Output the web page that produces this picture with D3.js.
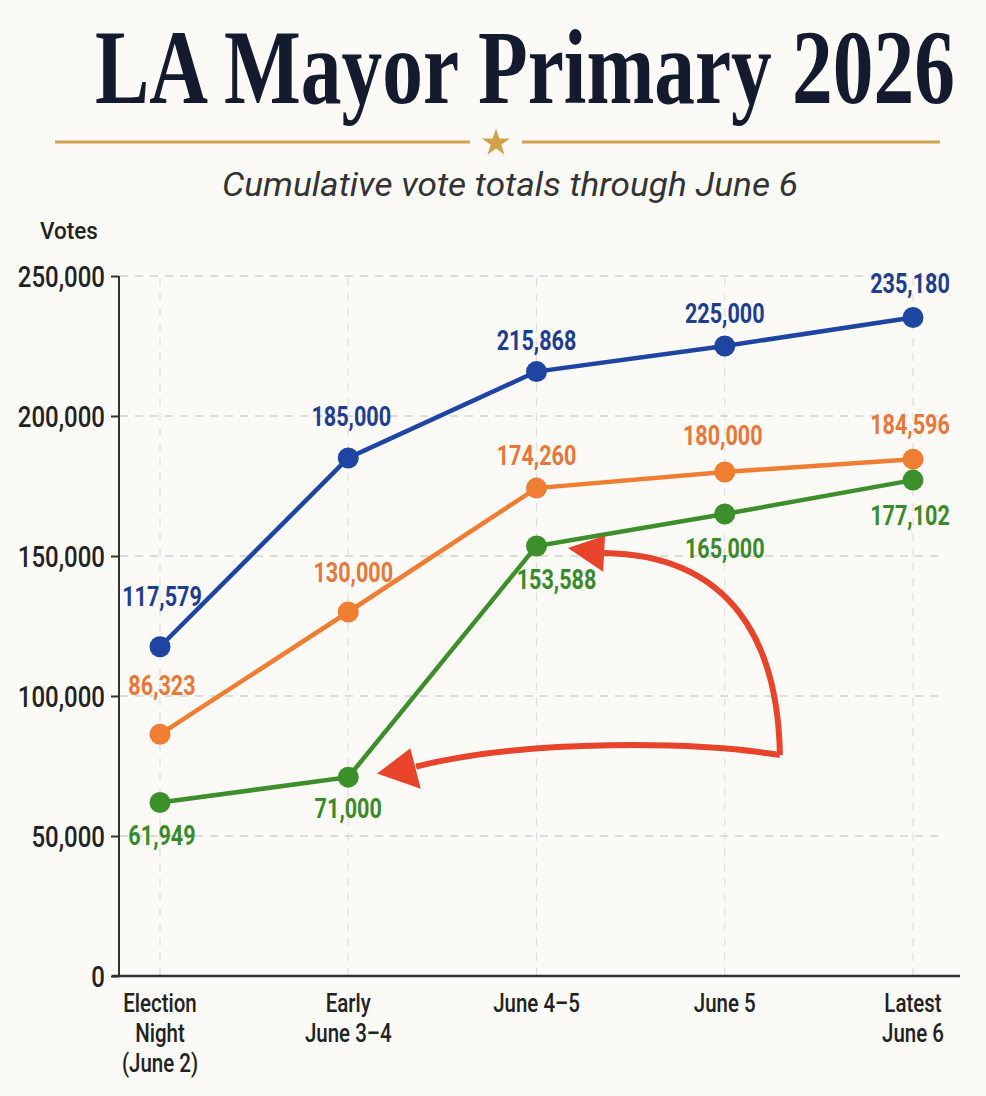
<!DOCTYPE html>
<html>
<head>
<meta charset="utf-8">
<script src="https://cdn.jsdelivr.net/npm/d3@7"></script>
<style>
  html, body { margin: 0; padding: 0; background: #fbfaf6; }
  svg { display: block; }
</style>
</head>
<body>
<div id="chart"></div>
<script>
// Chart data
const categories = ["Election Night (June 2)", "Early June 3\u20134", "June 4\u20135", "June 5", "Latest June 6"];
const categoryLines = [["Election", "Night", "(June 2)"], ["Early", "June 3\u20134"], ["June 4\u20135"], ["June 5"], ["Latest", "June 6"]];
const blueVotes = [117579, 185000, 215868, 225000, 235180];
const orangeVotes = [86323, 130000, 174260, 180000, 184596];
const greenVotes = [61949, 71000, 153588, 165000, 177102];
const yTicks = [0, 50000, 100000, 150000, 200000, 250000];

const width = 986;
const height = 1096;
const sans = "Roboto, 'Open Sans', 'DejaVu Sans', sans-serif";

const svg = d3.select("#chart")
  .append("svg")
  .attr("width", width)
  .attr("height", height);

svg.append("rect").attr("width", width).attr("height", height).attr("fill", "#fbfaf6");

// squeeze/stretch a text horizontally so it covers a given width
function fitWidth(sel, x, y, w) {
  const natural = sel.node().getComputedTextLength();
  sel.attr("transform", `translate(${x},${y}) scale(${w / natural},1)`);
}

// Title block
const title = svg.append("text")
  .style("font-family", "'Liberation Serif', 'DejaVu Serif', serif")
  .style("font-weight", "bold")
  .style("font-size", "106px")
  .attr("fill", "#141b2e")
  .text("LA Mayor Primary 2026");
fitWidth(title, 95, 103, 860);

const gold = "#d1a24b";
svg.append("line").attr("x1", 55).attr("x2", 470).attr("y1", 142).attr("y2", 142)
  .attr("stroke", gold).attr("stroke-width", 3);
svg.append("line").attr("x1", 522).attr("x2", 940).attr("y1", 142).attr("y2", 142)
  .attr("stroke", gold).attr("stroke-width", 3);
svg.append("path")
  .attr("d", d3.symbol().type(d3.symbolStar).size(240)())
  .attr("transform", "translate(496,143)")
  .attr("fill", gold);

const subtitle = svg.append("text")
  .style("font-family", sans)
  .style("font-style", "italic")
  .style("font-size", "33px")
  .attr("fill", "#333")
  .text("Cumulative vote totals through June 6");
fitWidth(subtitle, 222, 196, 576);

const votesLabel = svg.append("text")
  .style("font-family", sans)
  .style("font-weight", 500)
  .style("font-size", "24px")
  .attr("fill", "#222")
  .text("Votes");
fitWidth(votesLabel, 40, 239, 58);

// Scales
const x = d3.scalePoint().domain(categories).range([160, 913]);
const y = d3.scaleLinear().domain([0, 250000]).range([976, 276]);
const step = x.step();
// position in data space: fractional category index and vote value
const at = (i, v) => [x(categories[0]) + i * step, y(v)];

// Gridlines
const grid = svg.append("g");
grid.selectAll("line.h")
  .data(yTicks.filter(d => d > 0))
  .enter().append("line")
  .attr("x1", 120).attr("x2", 940)
  .attr("y1", d => y(d)).attr("y2", d => y(d))
  .attr("stroke", "#d2d2d2").attr("stroke-width", 1.5).attr("stroke-dasharray", "8,7");
grid.selectAll("line.v")
  .data(categories)
  .enter().append("line")
  .attr("x1", d => x(d)).attr("x2", d => x(d))
  .attr("y1", y(0)).attr("y2", y(250000))
  .attr("stroke", "#dedede").attr("stroke-width", 1.2).attr("stroke-dasharray", "8,7");

// Y axis
const yAxis = svg.append("g")
  .attr("transform", "translate(119,0)")
  .call(d3.axisLeft(y).tickValues(yTicks).tickFormat(d3.format(",")).tickSize(8).tickPadding(6));
yAxis.select(".domain").attr("stroke", "#333").attr("stroke-width", 2).attr("d", `M0,${y(250000)}V${y(0)}`);
yAxis.selectAll(".tick line").attr("stroke", "#333").attr("stroke-width", 2);
yAxis.selectAll(".tick text")
  .attr("x", 0)
  .attr("dy", "0.36em")
  .attr("transform", "translate(-14,0) scale(0.8,1)")
  .style("font-family", sans)
  .style("font-weight", 500)
  .style("font-size", "30px")
  .attr("fill", "#222");

// X axis
svg.append("line")
  .attr("x1", 112).attr("x2", 960)
  .attr("y1", y(0)).attr("y2", y(0))
  .attr("stroke", "#333").attr("stroke-width", 2.5);

categories.forEach((c, i) => {
  categoryLines[i].forEach((t, j) => {
    svg.append("text")
      .attr("transform", `translate(${x(c)},${1012 + j * 30}) scale(0.82,1)`)
      .attr("text-anchor", "middle")
      .style("font-family", sans)
      .style("font-weight", 500)
      .style("font-size", "25px")
      .attr("fill", "#222")
      .text(t);
  });
});

// Series
const series = [
  { name: "blue", values: blueVotes, color: "#1f45a3", label: "#1f3d8f" },
  { name: "orange", values: orangeVotes, color: "#ef7d32", label: "#e8773a" },
  { name: "green", values: greenVotes, color: "#3d8f2b", label: "#3a8a2a" }
];

const line = d3.line()
  .x((d, i) => x(categories[i]))
  .y(d => y(d));

series.forEach(s => {
  const g = svg.append("g");
  g.append("path")
    .datum(s.values)
    .attr("fill", "none")
    .attr("stroke", s.color)
    .attr("stroke-width", 4.5)
    .attr("d", line);
  g.selectAll("circle")
    .data(s.values)
    .enter().append("circle")
    .attr("cx", (d, i) => x(categories[i]))
    .attr("cy", d => y(d))
    .attr("r", 10.5)
    .attr("fill", s.color);
});

// Red annotation arrows, placed in data space
const arrowRed = "#e8442c";
const arrows = svg.append("g");
const corner = at(3.293, 78900);
const lowBase = at(1.36, 74800);
const highBase = at(2.359, 151100);
const curve = (p0, c1, c2, p1) => `M${p0}C${c1} ${c2} ${p1}`;

arrows.append("path")
  .attr("d", curve(corner, at(2.869, 83600), at(1.965, 85000), lowBase))
  .attr("fill", "none").attr("stroke", arrowRed).attr("stroke-width", 6);
arrows.append("path")
  .attr("d", curve(corner, at(3.283, 120000), at(3.028, 150400), highBase))
  .attr("fill", "none").attr("stroke", arrowRed).attr("stroke-width", 6);

arrows.append("path")
  .attr("d", "M" + [at(1.153, 72300), at(1.33, 81300), at(1.385, 66900)].join("L") + "Z")
  .attr("fill", arrowRed);
arrows.append("path")
  .attr("d", "M" + [at(2.167, 152900), at(2.364, 157300), at(2.354, 144400)].join("L") + "Z")
  .attr("fill", arrowRed);

// Value labels (offsets in px from each point)
const labelDy = {
  blue: [-41, -32, -22, -23, -24],
  orange: [-39, -30, -23, -27, -25],
  green: [42, 41, 43, 44, 45]
};
const labelDx = {
  blue: [2, 3, 0, 0, -3],
  orange: [2, 5, 0, -2, -3],
  green: [2, 0, 20, 0, -3]
};
series.forEach(s => {
  svg.append("g").selectAll("text")
    .data(s.values)
    .enter().append("text")
    .attr("transform", (d, i) => `translate(${x(categories[i]) + labelDx[s.name][i]},${y(d) + labelDy[s.name][i]}) scale(0.8,1)`)
    .attr("text-anchor", "middle")
    .style("font-family", sans)
    .style("font-size", "27px")
    .style("font-weight", 700)
    .attr("fill", s.label)
    .text(d => d3.format(",")(d));
});
</script>
</body>
</html>
